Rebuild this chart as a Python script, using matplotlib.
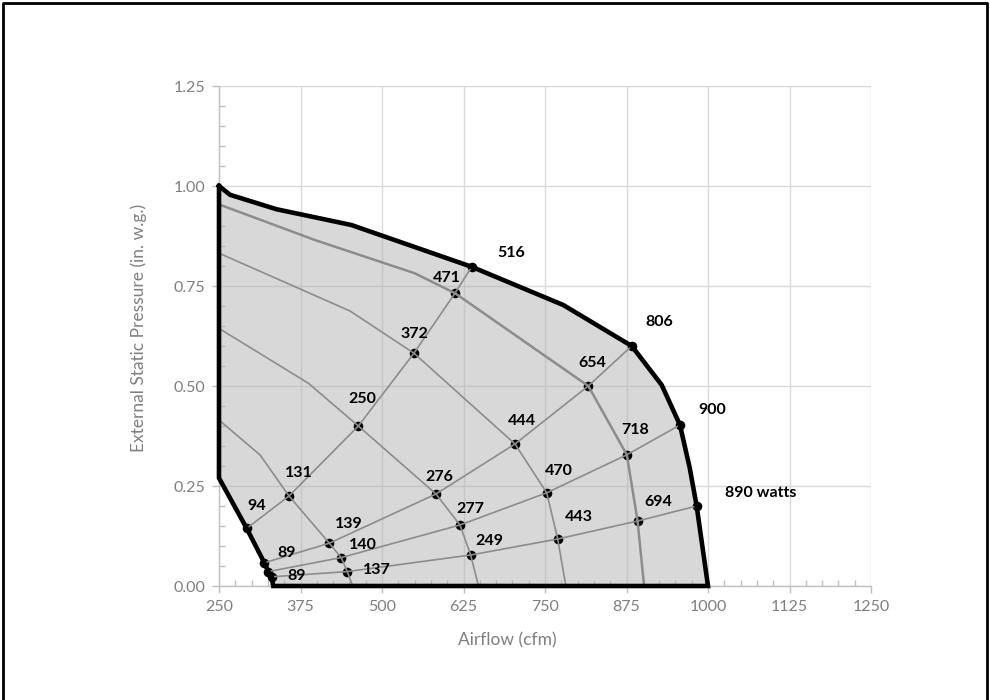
import matplotlib
matplotlib.use("Agg")
import matplotlib.pyplot as plt
from matplotlib.ticker import AutoMinorLocator
from matplotlib.patches import Polygon
from matplotlib.lines import Line2D

plt.rcParams["font.family"] = ["Lato", "DejaVu Sans"]

# ---- operating envelope (outer boundary) ----
top_cfm = [250, 267, 338, 453, 637.5, 778, 883, 929, 957, 972, 982.6, 1000]
top_esp = [1.00, 0.978, 0.942, 0.9025, 0.798, 0.7025, 0.60, 0.5025, 0.4025, 0.295, 0.20, 0.0]
low_cfm = [333, 330.8, 325.6, 319.5, 292.5, 250]
low_esp = [0.0, 0.023, 0.036, 0.058, 0.144, 0.27]

# ---- fan speed curves inside the envelope ----
speed2_cfm = [250, 397, 550, 612, 816.4, 875.5, 892, 902]
speed2_esp = [0.954, 0.865, 0.782, 0.732, 0.50, 0.328, 0.1625, 0.0]
speed3_cfm = [250, 451, 549, 704, 752.6, 769.5, 782]
speed3_esp = [0.832, 0.6875, 0.582, 0.355, 0.233, 0.1175, 0.0]
speed4_cfm = [250, 387, 463.7, 582.8, 619.6, 636, 648]
speed4_esp = [0.644, 0.507, 0.40, 0.23, 0.1525, 0.0775, 0.0]
speed5_cfm = [250, 313, 357.4, 419.2, 437.4, 446.7, 455]
speed5_esp = [0.415, 0.3275, 0.225, 0.107, 0.071, 0.036, 0.0]

# ---- system curves with power draw (watts) at each speed ----
sysA_cfm = [292.5, 357.4, 463.7, 549, 612, 637.5]
sysA_esp = [0.144, 0.225, 0.40, 0.582, 0.732, 0.798]
sysA_watts = ["94", "131", "250", "372", "471", "516"]

sysB_cfm = [319.5, 419.2, 582.8, 704, 816.4, 883]
sysB_esp = [0.058, 0.107, 0.23, 0.355, 0.50, 0.60]
sysB_watts = ["89", "139", "276", "444", "654", "806"]

sysC_cfm = [325.6, 437.4, 619.6, 752.6, 875.5, 957]
sysC_esp = [0.036, 0.071, 0.1525, 0.233, 0.328, 0.4025]
sysC_watts = ["", "140", "277", "470", "718", "900"]

sysD_cfm = [330.8, 446.7, 636, 769.5, 892, 982.6]
sysD_esp = [0.023, 0.036, 0.0775, 0.1175, 0.1625, 0.20]
sysD_watts = ["89", "137", "249", "443", "694", "890 watts"]

x_ticks = [250, 375, 500, 625, 750, 875, 1000, 1125, 1250]
y_ticks = [0.00, 0.25, 0.50, 0.75, 1.00, 1.25]

# label placement (pixel offsets from each point)
offA = [(10, 22), (10, 23), (4, 27), (0, 19), (-8, 15), (40, 14)]
offB = [(22, 10), (20, 19), (3, 17), (7, 23), (4, 23), (28, 24)]
offC = [(0, 0), (22, 13), (10, 16), (12, 22), (8, 25), (32, 15)]
offD = [(25, 1), (30, 2), (19, 14), (21, 22), (21, 19), (28, 13)]

DPI = 100
fig = plt.figure(figsize=(9.9, 7.0), dpi=DPI)
ax = fig.add_axes([219 / 990, 1 - 586 / 700, 652 / 990, 500 / 700])

grey_txt = "#7f7f7f"
ax.set_xlim(250, 1250)
ax.set_ylim(0, 1.25)
ax.set_xticks(x_ticks)
ax.set_yticks(y_ticks)
ax.set_yticklabels([f"{v:.2f}" for v in y_ticks])
ax.xaxis.set_minor_locator(AutoMinorLocator(5))
ax.yaxis.set_minor_locator(AutoMinorLocator(5))
ax.tick_params(which="major", direction="out", length=5, width=1, color="#bfbfbf",
               labelsize=11.5, labelcolor=grey_txt, pad=5)
ax.tick_params(which="minor", direction="in", length=4, width=1, color="#bfbfbf")
ax.grid(True, which="major", color="#d9d9d9", linewidth=1)
ax.set_axisbelow(True)
for s in ("top", "right"):
    ax.spines[s].set_visible(False)
for s in ("left", "bottom"):
    ax.spines[s].set_color("#bfbfbf")
    ax.spines[s].set_linewidth(1)

ax.set_xlabel("Airflow (cfm)", fontsize=12.5, color=grey_txt)
ax.set_ylabel("External Static Pressure (in. w.g.)", fontsize=12.5, color=grey_txt)
ax.xaxis.set_label_coords(0.442, -0.092)
ax.yaxis.set_label_coords(-0.111, 0.516)

# envelope polygon
env_x = top_cfm + low_cfm
env_y = top_esp + low_esp
ax.add_patch(Polygon(list(zip(env_x, env_y)), closed=True, facecolor="#b3b3b3",
                     alpha=0.5, edgecolor="none", zorder=1))

line_grey = "#8c8c8c"
ax.plot(speed2_cfm, speed2_esp, color=line_grey, lw=1.8, zorder=4)
for cx, cy in [(speed3_cfm, speed3_esp), (speed4_cfm, speed4_esp), (speed5_cfm, speed5_esp)]:
    ax.plot(cx, cy, color=line_grey, lw=1.2, zorder=4)

systems = [(sysA_cfm, sysA_esp, sysA_watts, offA),
           (sysB_cfm, sysB_esp, sysB_watts, offB),
           (sysC_cfm, sysC_esp, sysC_watts, offC),
           (sysD_cfm, sysD_esp, sysD_watts, offD)]

for cx, cy, labels, offs in systems:
    ax.scatter(cx, cy, s=48, color="black", zorder=3, linewidths=0)
    ax.plot(cx, cy, color=line_grey, lw=1.2, zorder=4)
    for x, y, lab, (dx, dy) in zip(cx, cy, labels, offs):
        if not lab:
            continue
        ha = "left" if "watts" in lab else "center"
        ax.annotate(lab, (x, y), xytext=(dx * 72 / DPI, dy * 72 / DPI),
                    textcoords="offset points", ha=ha, va="center",
                    fontsize=11.5, fontweight="bold", color="black", zorder=6)

# thick outline of the envelope
ax.plot(env_x + [env_x[0]], env_y + [env_y[0]], color="black", lw=3.3,
        solid_joinstyle="miter", zorder=5, clip_on=False)

# frame on the top, left and right edges of the figure
fx = [3 / 990, 3 / 990, 1 - 3 / 990, 1 - 3 / 990]
fy = [0.0, 1 - 3 / 700, 1 - 3 / 700, 0.0]
fig.lines.append(Line2D(fx, fy, transform=fig.transFigure, color="black", lw=2))

fig.savefig("out.png", dpi=DPI)
